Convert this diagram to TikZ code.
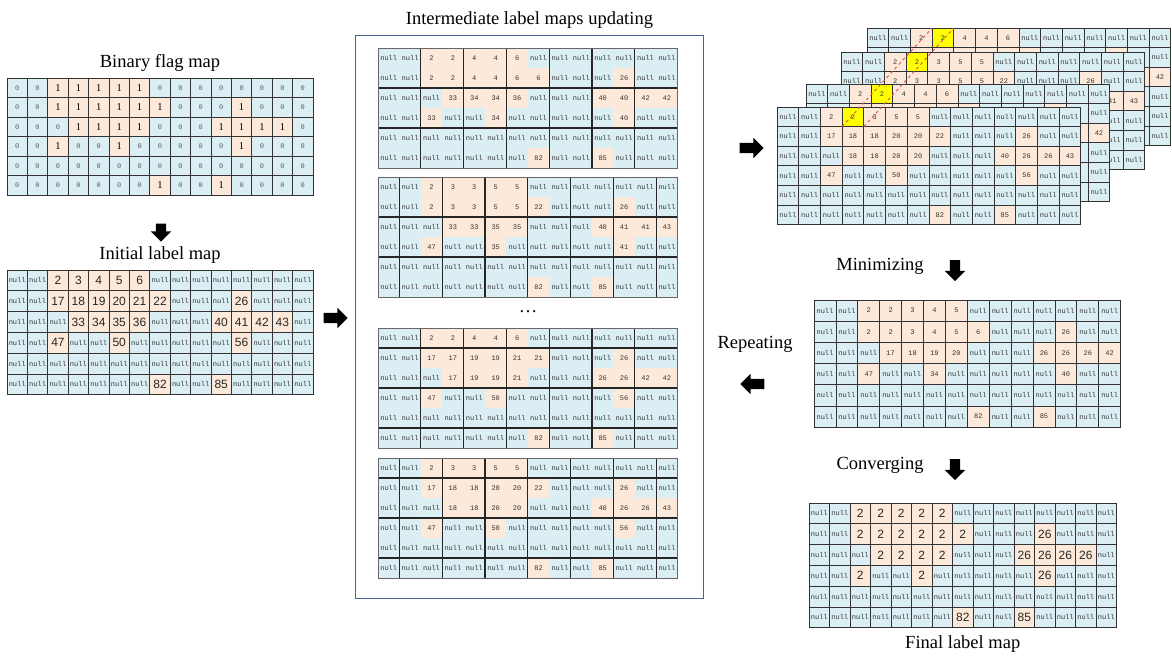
\documentclass[tikz,border=0pt]{standalone}
\usepackage{fontspec}
\setmainfont{Liberation Serif}
\newfontfamily\cellmono{Liberation Mono}
\newfontfamily\cellsans{Liberation Sans}
\usetikzlibrary{shapes.arrows, positioning, calc}

\definecolor{nullblue}{RGB}{218,238,243}
\definecolor{labpeach}{RGB}{253,233,217}
\definecolor{hityellow}{RGB}{255,255,0}
\definecolor{boxblue}{RGB}{70,100,155}
\definecolor{hitred}{RGB}{225,80,80}

\newcommand{\nulltext}{null}
% area where a map in front hides the cell texts (none by default)
\newcommand{\coverL}{-1}\newcommand{\coverT}{-1}
\newcommand{\coverR}{-1}\newcommand{\coverB}{-1}
% #1 name, #2 #3 top left corner, #4 cell width, #5 cell height, #6 scope options,
% #7 rows: 0 = null, negative = highlighted label
\newcommand{\labelmap}[7]{%
  \begin{scope}[shift={(#2,#3)}, #6]
    \foreach \row [count=\r from 0] in {#7} {
      \foreach \v [count=\c from 0] in \row {
        \pgfmathsetmacro\cx{#2+(\c+0.5)*#4}
        \pgfmathsetmacro\cy{#3+(\r+0.5)*#5}
        \pgfmathtruncatemacro\hide{(\cx>\coverL)&&(\cx<\coverR)&&(\cy>\coverT)&&(\cy<\coverB)}
        \ifnum\v=0
          \node[cell, nullc, minimum width=#4, minimum height=#5] (#1-\r-\c)
            at ({(\c+0.5)*#4}, {(\r+0.5)*#5}) {\ifnum\hide=0 \nulltext\fi};
        \else\ifnum\v<0
          \node[cell, hitc, num, minimum width=#4, minimum height=#5] (#1-\r-\c)
            at ({(\c+0.5)*#4}, {(\r+0.5)*#5}) {\ifnum\hide=0 \the\numexpr0-(\v)\relax\fi};
        \else
          \node[cell, labc, num, minimum width=#4, minimum height=#5] (#1-\r-\c)
            at ({(\c+0.5)*#4}, {(\r+0.5)*#5}) {\ifnum\hide=0 \v\fi};
        \fi\fi
      }
    }
  \end{scope}}

\tikzset{
  cell/.style={draw=black!80, line width=0.7pt, outer sep=0pt, inner sep=0pt,
    font=\cellmono\fontsize{7}{7}\selectfont, text=black!80},
  nullc/.style={fill=nullblue},
  labc/.style={fill=labpeach},
  hitc/.style={fill=hityellow},
  num/.style={},
  nulltext/.code={\renewcommand{\nulltext}{#1}},
  cover/.code args={#1,#2,#3,#4}{\renewcommand{\coverL}{#1}\renewcommand{\coverT}{#2}%
    \renewcommand{\coverR}{#3}\renewcommand{\coverB}{#4}},
  bare/.style={cell/.append style={draw=none}},
  bignum/.style={num/.style={font=\cellsans\fontsize{12}{12}\selectfont, text=black!85}},
  blockline/.style={draw=black!85, line width=1.2pt},
  frame/.style={draw=black!60, line width=0.6pt},
  title/.style={font=\fontsize{18.5}{20}\selectfont},
  flow/.style={single arrow, fill=black, minimum height=24pt, inner xsep=0pt,
    inner ysep=5pt, single arrow head extend=5pt},
  hitline/.style={draw=hitred, dashed, line width=0.9pt}
}

\begin{document}
\begin{tikzpicture}[x=1pt, y=-1pt]
  \useasboundingbox (0,0) rectangle (1172,669);

  % binary flags and the first labels
  \labelmap{flag}{7}{78}{20.4}{19.5}{nulltext=0,
      nullc/.append style={font=\cellmono\fontsize{7}{7}\selectfont, text=black!65},
      num/.style={font=\fontsize{10.5}{10.5}\selectfont, text=black}}{
    {0,0,1,1,1,1,1,0,0,0,0,0,0,0,0},
    {0,0,1,1,1,1,1,1,0,0,0,1,0,0,0},
    {0,0,0,1,1,1,1,0,0,0,1,1,1,1,0},
    {0,0,1,0,0,1,0,0,0,0,0,1,0,0,0},
    {0,0,0,0,0,0,0,0,0,0,0,0,0,0,0},
    {0,0,0,0,0,0,0,1,0,0,1,0,0,0,0}}
  \node[title, above=3pt of flag-0-7.north] (tflag) {Binary flag map};

  \labelmap{init}{7}{270}{20.4}{20.8}{bignum}{
    {0,0,2,3,4,5,6,0,0,0,0,0,0,0,0},
    {0,0,17,18,19,20,21,22,0,0,0,26,0,0,0},
    {0,0,0,33,34,35,36,0,0,0,40,41,42,43,0},
    {0,0,47,0,0,50,0,0,0,0,0,56,0,0,0},
    {0,0,0,0,0,0,0,0,0,0,0,0,0,0,0},
    {0,0,0,0,0,0,0,82,0,0,85,0,0,0,0}}
  \node[title, above=3pt of init-0-7.north] (tinit) {Initial label map};

  % updating on 2x2 blocks, four alignments
  \node[draw=boxblue, line width=0.8pt, minimum width=348pt, minimum height=563pt,
    anchor=north west] (box) at (355,35) {};
  \node[title, above=3pt of box.north] (tbox) {Intermediate label maps updating};

  \labelmap{ma}{378}{48}{21.4}{20}{bare}{
    {0,0,2,2,4,4,6,0,0,0,0,0,0,0},
    {0,0,2,2,4,4,6,6,0,0,0,26,0,0},
    {0,0,0,33,34,34,36,0,0,0,40,40,42,42},
    {0,0,33,0,0,34,0,0,0,0,0,40,0,0},
    {0,0,0,0,0,0,0,0,0,0,0,0,0,0},
    {0,0,0,0,0,0,0,82,0,0,85,0,0,0}}
  \foreach \c in {1,3,...,11}
    \draw[blockline] (ma-0-\c.north east) -- (ma-5-\c.south east);
  \foreach \r in {1,3}
    \draw[blockline] (ma-\r-0.south west) -- (ma-\r-13.south east);
  \draw[frame] (ma-0-0.north west) rectangle (ma-5-13.south east);

  \labelmap{mb}{378}{177}{21.4}{20}{bare}{
    {0,0,2,3,3,5,5,0,0,0,0,0,0,0},
    {0,0,2,3,3,5,5,22,0,0,0,26,0,0},
    {0,0,0,33,33,35,35,0,0,0,40,41,41,43},
    {0,0,47,0,0,35,0,0,0,0,0,41,0,0},
    {0,0,0,0,0,0,0,0,0,0,0,0,0,0},
    {0,0,0,0,0,0,0,82,0,0,85,0,0,0}}
  \foreach \c in {0,2,...,12}
    \draw[blockline] (mb-0-\c.north east) -- (mb-5-\c.south east);
  \foreach \r in {1,3}
    \draw[blockline] (mb-\r-0.south west) -- (mb-\r-13.south east);
  \draw[frame] (mb-0-0.north west) rectangle (mb-5-13.south east);

  \node[title] (dots) at (528,312) {\dots};

  \labelmap{mc}{378}{328}{21.4}{20}{bare}{
    {0,0,2,2,4,4,6,0,0,0,0,0,0,0},
    {0,0,17,17,19,19,21,21,0,0,0,26,0,0},
    {0,0,0,17,19,19,21,0,0,0,26,26,42,42},
    {0,0,47,0,0,50,0,0,0,0,0,56,0,0},
    {0,0,0,0,0,0,0,0,0,0,0,0,0,0},
    {0,0,0,0,0,0,0,82,0,0,85,0,0,0}}
  \foreach \c in {1,3,...,11}
    \draw[blockline] (mc-0-\c.north east) -- (mc-5-\c.south east);
  \foreach \r in {0,2,4}
    \draw[blockline] (mc-\r-0.south west) -- (mc-\r-13.south east);
  \draw[frame] (mc-0-0.north west) rectangle (mc-5-13.south east);

  \labelmap{md}{378}{458}{21.4}{20}{bare}{
    {0,0,2,3,3,5,5,0,0,0,0,0,0,0},
    {0,0,17,18,18,20,20,22,0,0,0,26,0,0},
    {0,0,0,18,18,20,20,0,0,0,40,26,26,43},
    {0,0,47,0,0,50,0,0,0,0,0,56,0,0},
    {0,0,0,0,0,0,0,0,0,0,0,0,0,0},
    {0,0,0,0,0,0,0,82,0,0,85,0,0,0}}
  \foreach \c in {0,2,...,12}
    \draw[blockline] (md-0-\c.north east) -- (md-5-\c.south east);
  \foreach \r in {0,2,4}
    \draw[blockline] (md-\r-0.south west) -- (md-\r-13.south east);
  \draw[frame] (md-0-0.north west) rectangle (md-5-13.south east);

  % stacked maps, back to front
  \labelmap{s3}{867}{28}{21.7}{19.6}{cover={841,52,1145,170}}{
    {0,0,2,-2,4,4,6,0,0,0,0,0,0,0},
    {0,0,2,2,4,4,6,6,0,0,0,26,0,0},
    {0,0,0,33,34,34,36,0,0,0,40,40,42,42},
    {0,0,33,0,0,34,0,0,0,0,0,40,0,0},
    {0,0,0,0,0,0,0,0,0,0,0,0,0,0},
    {0,0,0,0,0,0,0,82,0,0,85,0,0,0}}
  \labelmap{s2}{841}{52}{21.7}{19.6}{cover={806,84,1110,202}}{
    {0,0,2,-2,3,5,5,0,0,0,0,0,0,0},
    {0,0,2,3,3,5,5,22,0,0,0,26,0,0},
    {0,0,0,33,33,35,35,0,0,0,40,41,41,43},
    {0,0,47,0,0,35,0,0,0,0,0,41,0,0},
    {0,0,0,0,0,0,0,0,0,0,0,0,0,0},
    {0,0,0,0,0,0,0,82,0,0,85,0,0,0}}
  \labelmap{s1}{806}{84}{21.7}{19.6}{cover={777,107,1081,225}}{
    {0,0,2,-2,4,4,6,0,0,0,0,0,0,0},
    {0,0,17,17,19,19,21,21,0,0,0,26,0,0},
    {0,0,0,17,19,19,21,0,0,0,26,26,42,42},
    {0,0,47,0,0,50,0,0,0,0,0,56,0,0},
    {0,0,0,0,0,0,0,0,0,0,0,0,0,0},
    {0,0,0,0,0,0,0,82,0,0,85,0,0,0}}
  \labelmap{s0}{777}{107}{21.7}{19.6}{}{
    {0,0,2,-2,3,5,5,0,0,0,0,0,0,0},
    {0,0,17,18,18,20,20,22,0,0,0,26,0,0},
    {0,0,0,18,18,20,20,0,0,0,40,26,26,43},
    {0,0,47,0,0,50,0,0,0,0,0,56,0,0},
    {0,0,0,0,0,0,0,0,0,0,0,0,0,0},
    {0,0,0,0,0,0,0,82,0,0,85,0,0,0}}
  \draw[hitline] (s0-0-3.south west) -- (s3-0-3.north west);
  \draw[hitline] (s0-0-3.south east) -- (s3-0-3.north east);

  % minimum over the stack, then the converged labels
  \labelmap{mn}{814}{300}{21.9}{21.2}{}{
    {0,0,2,2,3,4,5,0,0,0,0,0,0,0},
    {0,0,2,2,3,4,5,6,0,0,0,26,0,0},
    {0,0,0,17,18,19,20,0,0,0,26,26,26,42},
    {0,0,47,0,0,34,0,0,0,0,0,40,0,0},
    {0,0,0,0,0,0,0,0,0,0,0,0,0,0},
    {0,0,0,0,0,0,0,82,0,0,85,0,0,0}}

  \labelmap{fin}{809}{503}{20.5}{20.8}{bignum}{
    {0,0,2,2,2,2,2,0,0,0,0,0,0,0,0},
    {0,0,2,2,2,2,2,2,0,0,0,26,0,0,0},
    {0,0,0,2,2,2,2,0,0,0,26,26,26,26,0},
    {0,0,2,0,0,2,0,0,0,0,0,26,0,0,0},
    {0,0,0,0,0,0,0,0,0,0,0,0,0,0,0},
    {0,0,0,0,0,0,0,82,0,0,85,0,0,0,0}}
  \node[title, below=4pt of fin-5-7.south] (tfin) {Final label map};

  % block arrows and step labels
  \node[flow, rotate=-90, minimum height=18pt] (adown) at (161,230) {};
  \node[flow] (ainit) at (333,318) {};
  \node[flow] (astack) at (749,148) {};
  \node[flow, rotate=180] (arep) at (755,384) {};
  \node[flow, rotate=-90, minimum height=21pt] (amin) at (955,268) {};
  \node[flow, rotate=-90, minimum height=21pt] (aconv) at (955,467) {};
  \node[title] (lmin) at (880,266) {Minimizing};
  \node[title] (lrep) at (755,344) {Repeating};
  \node[title] (lconv) at (880,465) {Converging};
\end{tikzpicture}
\end{document}
